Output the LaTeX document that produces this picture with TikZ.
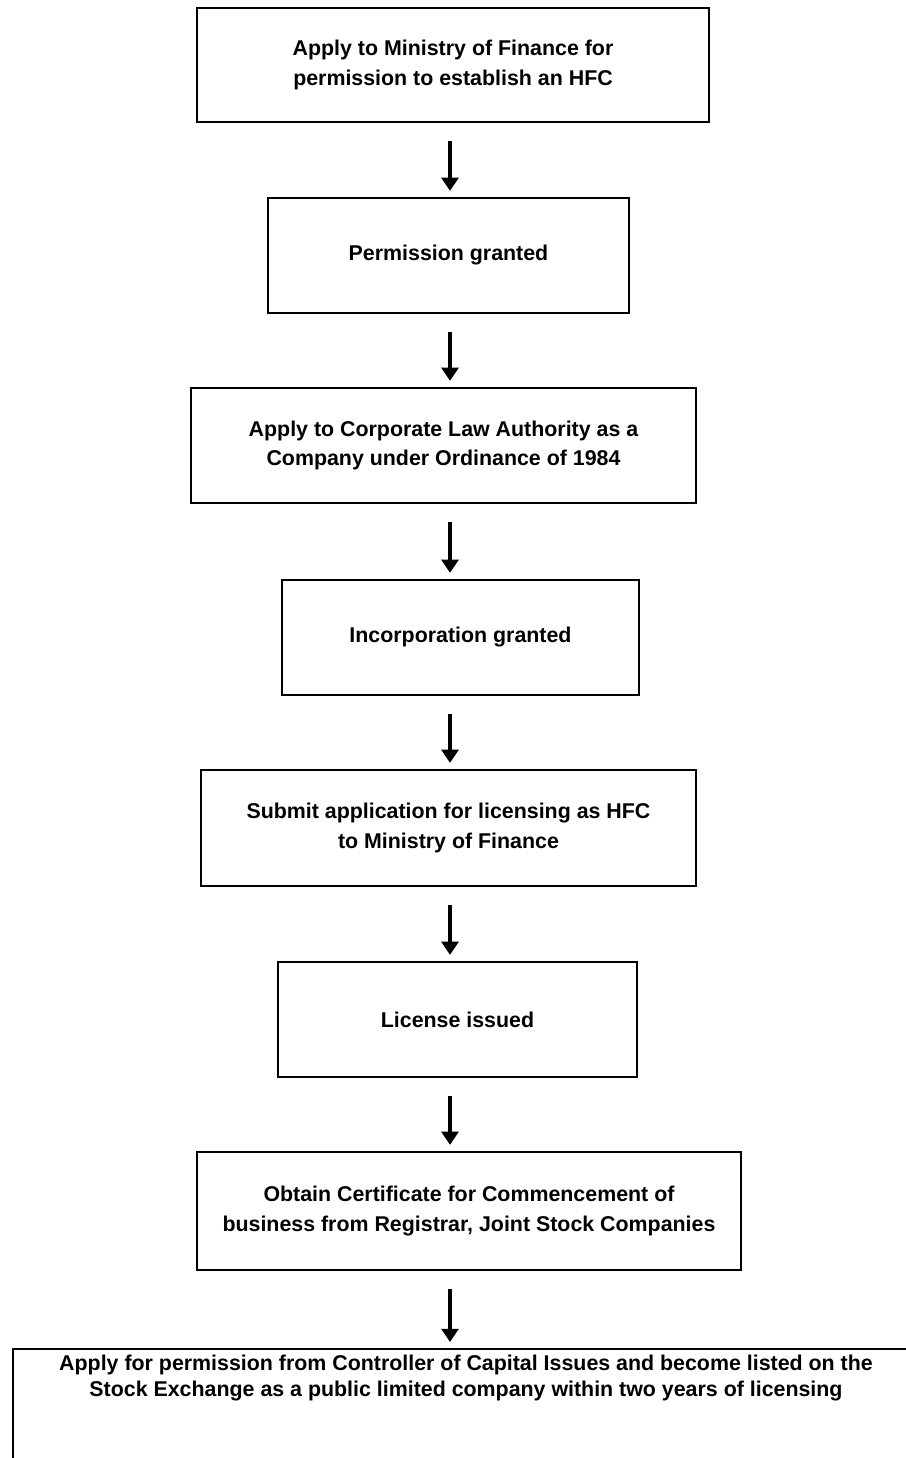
\documentclass[tikz,border=0pt]{standalone}
\usepackage{fontspec}
\setmainfont{Liberation Sans}
\usetikzlibrary{arrows.meta}
\newcommand{\px}{0.025cm}
\tikzset{
  box/.style={draw, line width=1.6pt, align=center, inner sep=0pt,
    font=\bfseries\fontsize{15.2}{21}\selectfont},
  flow/.style={line width=3.4pt, -{Triangle[length=0.33cm, width=0.42cm]},
    shorten <=0.45cm, shorten >=0.15cm}
}

\begin{document}
\begin{tikzpicture}[x=\px, y=-\px]
 \clip (0,0) rectangle (906,1458);
 \coordinate (axis) at (450,0);
 \node[box, minimum width=512*\px, minimum height=114*\px] (Apply) at (453,65) {Apply to Ministry of Finance for\\permission to establish an HFC};
 \node[box, minimum width=361*\px, minimum height=115*\px] (Perm) at (448.5,255.5) {Permission granted};
 \node[box, minimum width=505*\px, minimum height=115*\px] (CLA) at (443.5,445.5) {Apply to Corporate Law Authority as a\\Company under Ordinance of 1984};
 \node[box, minimum width=357*\px, minimum height=115*\px] (Inc) at (460.5,637.5) {Incorporation granted};
 \node[box, minimum width=495*\px, minimum height=116*\px] (Sub) at (448.5,828) {Submit application for licensing as HFC\\to Ministry of Finance};
 \node[box, minimum width=359*\px, minimum height=115*\px] (Lic) at (457.5,1019.5) {License issued};
 \node[box, minimum width=544*\px, minimum height=118*\px] (Cert) at (469,1211) {Obtain Certificate for Commencement of\\business from Registrar, Joint Stock Companies};
 \node[box, anchor=north west, minimum width=910*\px, minimum height=150*\px] (CCI) at (12,1348) {};
 \node[font=\bfseries\fontsize{15.2}{19}\selectfont, align=center] (CCItext) at (466,1378) {Apply for permission from Controller of Capital Issues and become listed on the\\Stock Exchange as a public limited company within two years of licensing};
 \draw[flow] (Apply.south -| axis) -- (Perm.north -| axis);
 \draw[flow] (Perm.south -| axis) -- (CLA.north -| axis);
 \draw[flow] (CLA.south -| axis) -- (Inc.north -| axis);
 \draw[flow] (Inc.south -| axis) -- (Sub.north -| axis);
 \draw[flow] (Sub.south -| axis) -- (Lic.north -| axis);
 \draw[flow] (Lic.south -| axis) -- (Cert.north -| axis);
 \draw[flow] (Cert.south -| axis) -- (CCI.north -| axis);
\end{tikzpicture}
\end{document}
